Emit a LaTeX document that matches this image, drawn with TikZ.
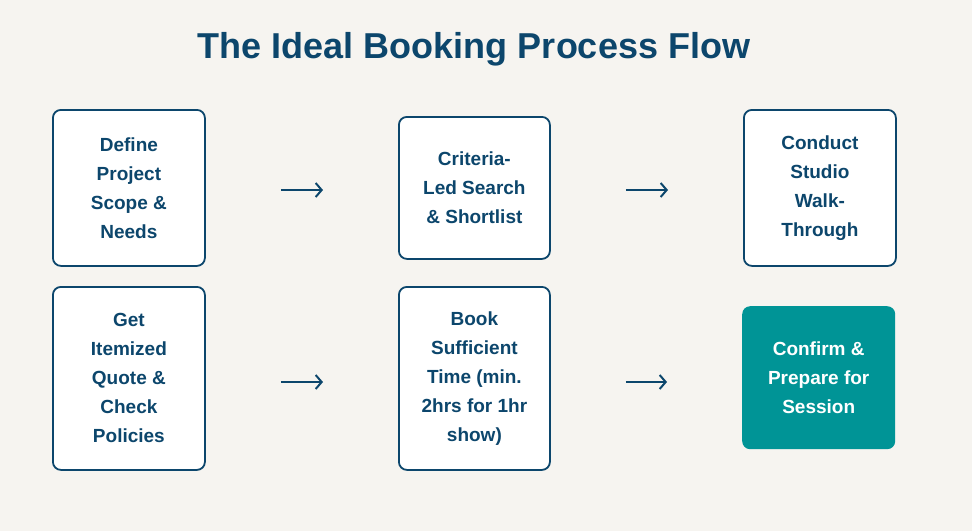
\documentclass[tikz,border=0pt]{standalone}
\usepackage{fontspec}
\setmainfont{Liberation Sans}
\usetikzlibrary{arrows.meta}
\definecolor{navy}{HTML}{0C466C}
\definecolor{teal2}{HTML}{009496}
\definecolor{bg}{HTML}{F6F4F0}
\tikzset{
  stepbox/.style={draw=navy, line width=1.8pt, fill=white, rounded corners=8pt,
    text=navy, align=center, font=\fontsize{19}{29}\selectfont\bfseries,
    inner sep=0pt, anchor=north west},
  finalbox/.style={fill=teal2, rounded corners=8pt, text=white, align=center,
    font=\fontsize{19}{29}\selectfont\bfseries, inner sep=0pt, anchor=north west},
  flow/.style={draw=navy, line width=2pt, -{Straight Barb[length=6pt,width=14pt,line width=2pt]},
    shorten <=75pt, shorten >=75pt}
}
\begin{document}
\begin{tikzpicture}[x=1pt,y=-1pt]
\fill[bg] (0,0) rectangle (972,531);
\useasboundingbox (0,0) rectangle (972,531);
\node[text=navy, font=\fontsize{36}{42}\selectfont\bfseries] (title) at (474,49) {The Ideal Booking Process Flow};
\node[stepbox, minimum width=152pt, minimum height=156pt] (a) at (52,109) {Define\\Project\\Scope \&\\Needs};
\node[stepbox, minimum width=151pt, minimum height=142pt] (b) at (398,116) {Criteria-\\Led Search\\\& Shortlist};
\node[stepbox, minimum width=152pt, minimum height=156pt] (c) at (743,109) {Conduct\\Studio\\Walk-\\Through};
\node[stepbox, minimum width=152pt, minimum height=183pt] (d) at (52,286) {Get\\Itemized\\Quote \&\\Check\\Policies};
\node[stepbox, minimum width=151pt, minimum height=183pt] (e) at (398,286) {Book\\Sufficient\\Time (min.\\2hrs for 1hr\\show)};
\node[finalbox, minimum width=153pt, minimum height=143pt] (f) at (742,306) {Confirm \&\\Prepare for\\Session};
\draw[flow] (a.east |- 0,190) -- (b.west |- 0,190);
\draw[flow] (b.east |- 0,190) -- (c.west |- 0,190);
\draw[flow] (d.east |- 0,382) -- (e.west |- 0,382);
\draw[flow] (e.east |- 0,382) -- (f.west |- 0,382);
\end{tikzpicture}
\end{document}
